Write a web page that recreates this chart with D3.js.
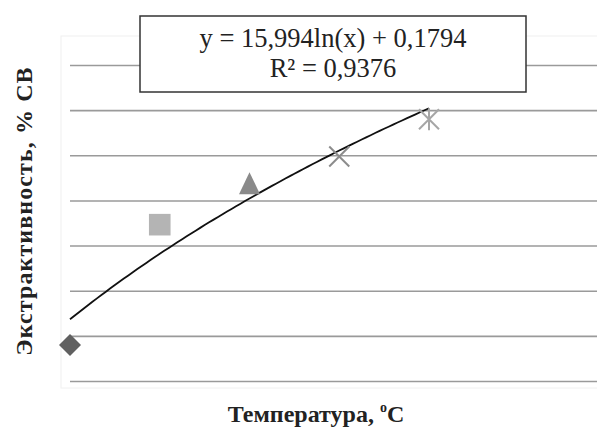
<!DOCTYPE html>
<html>
<head>
<meta charset="utf-8">
<script src="https://cdn.jsdelivr.net/npm/d3@7"></script>
<style>
  html, body { margin: 0; padding: 0; background: #fff; }
  svg { display: block; }
</style>
</head>
<body>
<svg id="chart" width="597" height="430"></svg>
<script>
// ---- data ----
const categories = [1, 2, 3, 4, 5];
const values = [4.04, 17.37, 21.97, 24.92, 29.05];
const markers = ["diamond", "square", "triangle", "cross", "star"];
const markerColors = ["#606060", "#b4b4b4", "#8a8a8a", "#8c8c8c", "#a6a6a6"];
const gridValues = [0, 5, 10, 15, 20, 25, 30, 35];
const trendCoef = [39.76, -57.1, 4]; // a, b, shift: a*ln(x+shift)+b
const equationLines = ["y = 15,994ln(x) + 0,1794", "R² = 0,9376"];
const yTitle = "Экстрактивность, % СВ";
const xTitle = "Температура, ";

const svg = d3.select("#chart");
const x = d3.scaleLinear().domain([1, 5]).range([70, 429]);
const y = d3.scaleLinear().domain([0, 35]).range([381.5, 65.5]);

// faint plot area
svg.append("rect").attr("x", 61).attr("y", 36).attr("width", 560).attr("height", 352)
  .attr("fill", "none").attr("stroke", "#f0f0f0").attr("stroke-width", 1);

// gridlines
svg.append("g").selectAll("line").data(gridValues).join("line")
  .attr("x1", 70).attr("x2", 597)
  .attr("y1", d => y(d)).attr("y2", d => y(d))
  .attr("stroke", "#9a9a9a").attr("stroke-width", 1.6);

// trend line
const [a, b, s] = trendCoef;
const xs = d3.range(1, 5.0001, 0.05);
svg.append("path")
  .datum(xs)
  .attr("d", d3.line().x(d => x(d)).y(d => y(a * Math.log(d + s) + b)))
  .attr("fill", "none").attr("stroke", "#111").attr("stroke-width", 1.8);

// markers
const g = svg.append("g");
categories.forEach((c, i) => {
  const cx = x(c), cy = y(values[i]), col = markerColors[i];
  const m = markers[i];
  if (m === "diamond") {
    g.append("path").attr("d", `M${cx},${cy-11}L${cx+11},${cy}L${cx},${cy+11}L${cx-11},${cy}Z`).attr("fill", col);
  } else if (m === "square") {
    g.append("rect").attr("x", cx - 10.8).attr("y", cy - 10.8).attr("width", 21.6).attr("height", 21.6).attr("fill", col);
  } else if (m === "triangle") {
    g.append("path").attr("d", `M${cx},${cy-11}L${cx+10.5},${cy+11}L${cx-10.5},${cy+11}Z`).attr("fill", col);
  } else if (m === "cross") {
    g.append("path").attr("d", `M${cx-10},${cy-10}L${cx+10},${cy+10}M${cx+10},${cy-10}L${cx-10},${cy+10}`)
      .attr("stroke", col).attr("stroke-width", 2).attr("fill", "none");
  } else if (m === "star") {
    g.append("path").attr("d", `M${cx-10},${cy-10}L${cx+10},${cy+10}M${cx+10},${cy-10}L${cx-10},${cy+10}M${cx},${cy-11}L${cx},${cy+11}`)
      .attr("stroke", col).attr("stroke-width", 2).attr("fill", "none");
  }
});

// equation box
svg.append("rect").attr("x", 140).attr("y", 16).attr("width", 386).attr("height", 76)
  .attr("fill", "#fff").attr("stroke", "#333").attr("stroke-width", 1.5);
svg.append("g").selectAll("text").data(equationLines).join("text")
  .attr("x", 333).attr("y", (d, i) => 46.5 + i * 30.5)
  .attr("text-anchor", "middle")
  .attr("font-family", "Liberation Serif, serif").attr("font-size", 26.5).attr("fill", "#222")
  .text(d => d);

// axis titles
svg.append("text")
  .attr("transform", "translate(32,211) rotate(-90)")
  .attr("text-anchor", "middle")
  .attr("font-family", "Liberation Serif, serif").attr("font-weight", "bold").attr("font-size", 24)
  .attr("letter-spacing", 1.1).attr("fill", "#222")
  .text(yTitle);

const xt = svg.append("text")
  .attr("x", 316).attr("y", 422)
  .attr("text-anchor", "middle")
  .attr("font-family", "Liberation Serif, serif").attr("font-weight", "bold").attr("font-size", 24)
  .attr("fill", "#222");
xt.append("tspan").text(xTitle);
xt.append("tspan").attr("dy", -10).attr("font-size", 14).text("o");
xt.append("tspan").attr("dy", 10).text("C");
</script>
</body>
</html>
